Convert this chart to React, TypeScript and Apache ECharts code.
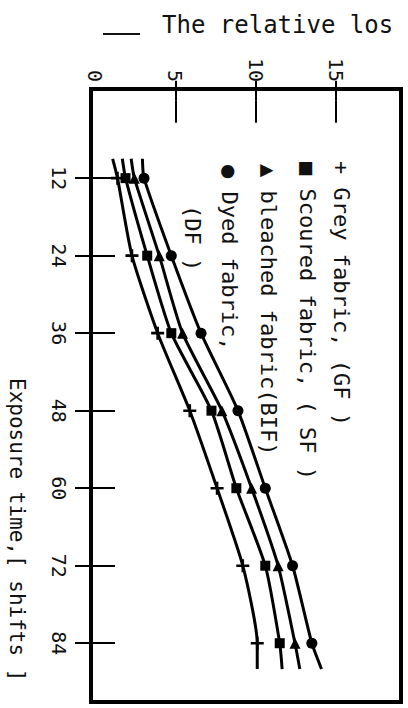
import React, { useEffect, useRef } from "react";
import * as echarts from "echarts";

// Exposure time (shifts) at which each curve was read; 9 and 88 are the curve ends (no marker)
const exposureShifts = [9, 12, 24, 36, 48, 60, 72, 84, 88];
const curveEnds = [9, 88];

// Relative loss values
const greyFabric = [1.1, 1.4, 2.3, 3.9, 5.9, 7.6, 9.2, 10.1, 10.1];
const scouredFabric = [1.7, 1.9, 3.25, 4.75, 7.25, 8.8, 10.6, 11.5, 11.65];
const bleachedFabric = [2.25, 2.45, 4.0, 5.45, 7.9, 9.75, 11.4, 12.45, 12.75];
const dyedFabric = [2.95, 3.05, 4.75, 6.6, 8.9, 10.6, 12.3, 13.5, 14.1];

const timeTicks = [12, 24, 36, 48, 60, 72, 84];
const lossLabels = [0, 5, 10, 15];
const lossTicks = [5, 10, 15];

const legendTexts = [
  "+ Grey fabric, (GF )",
  "■ Scoured fabric, ( SF )",
  "▲ bleached fabric(BIF)",
  "● Dyed fabric,",
  "(DF )",
];
const titleText = "The relative los";
const timeAxisName = "Exposure time,[ shifts ]";

const FONT = "DejaVu Sans Mono";
const PLUS =
  "path://M-1.2,-6 L1.2,-6 L1.2,-1.2 L6,-1.2 L6,1.2 L1.2,1.2 L1.2,6 L-1.2,6 L-1.2,1.2 L-6,1.2 L-6,-1.2 L-1.2,-1.2 Z";

export default function App() {
  const ref = useRef<HTMLDivElement>(null);

  useEffect(() => {
    if (!ref.current) return;
    const chart = echarts.init(ref.current, undefined, { renderer: "svg" });

    const makeSeries = (name: string, values: number[], symbol: string, size: number) => ({
      type: "line",
      name,
      xAxisIndex: 0,
      yAxisIndex: 0,
      smooth: 0.2,
      showAllSymbol: true,
      symbol,
      symbolSize: size,
      lineStyle: { color: "#000", width: 3 },
      itemStyle: { color: "#000" },
      data: values.map((v, i) => ({
        value: [v, exposureShifts[i]],
        symbol: curveEnds.includes(exposureShifts[i]) ? "none" : symbol,
      })),
    });

    const xMin = -0.25;
    const xMax = 19.05;
    const yMin = -1.8;
    const yMax = 93.1;

    const tickStyle = { color: "#000", width: 2 };
    const labelStyle = { fontSize: 20, fontFamily: FONT, color: "#111" };

    const legendX = [341, 307, 268, 229, 192];
    const legendY = [161, 162, 164, 165, 205];

    const textStyle = (text: string, size: number) => ({
      text,
      fontSize: size,
      fontFamily: FONT,
      fill: "#111",
      textAlign: "left",
      textVerticalAlign: "middle",
      verticalAlign: "middle",
    });

    chart.setOption({
      animation: false,
      backgroundColor: "#fff",
      grid: {
        left: 91,
        top: 89,
        right: 7,
        bottom: 6,
        show: true,
        borderColor: "#000",
        borderWidth: 4,
      },
      xAxis: [
        {
          type: "value",
          position: "top",
          min: xMin,
          max: xMax,
          axisLine: { show: false },
          splitLine: { show: false },
          axisTick: { show: true, inside: true, length: 22, customValues: lossTicks, lineStyle: tickStyle },
          axisLabel: { customValues: lossLabels, rotate: -90, margin: 7, ...labelStyle },
        },
        {
          type: "value",
          position: "bottom",
          min: xMin,
          max: xMax,
          axisLine: { show: false },
          splitLine: { show: false },
          axisTick: { show: true, inside: true, length: 20, customValues: lossTicks, lineStyle: tickStyle },
          axisLabel: { show: false },
        },
      ],
      yAxis: [
        {
          type: "value",
          position: "left",
          inverse: true,
          min: yMin,
          max: yMax,
          axisLine: { show: false },
          splitLine: { show: false },
          axisTick: { show: true, inside: true, length: 20, customValues: timeTicks, lineStyle: tickStyle },
          axisLabel: { customValues: timeTicks, rotate: -90, margin: 22, ...labelStyle },
        },
        {
          type: "value",
          position: "right",
          inverse: true,
          min: yMin,
          max: yMax,
          axisLine: { show: false },
          splitLine: { show: false },
          axisTick: { show: true, inside: true, length: 20, customValues: timeTicks, lineStyle: tickStyle },
          axisLabel: { show: false },
        },
      ],
      series: [
        makeSeries("Grey fabric", greyFabric, PLUS, 13),
        makeSeries("Scoured fabric", scouredFabric, "rect", 10),
        makeSeries("Bleached fabric", bleachedFabric, "triangle", 11),
        makeSeries("Dyed fabric", dyedFabric, "circle", 11),
      ],
      graphic: [
        {
          type: "line",
          shape: { x1: 103, y1: 34, x2: 140, y2: 34 },
          style: { stroke: "#111", lineWidth: 2 },
        },
        {
          type: "text",
          x: 162,
          y: 25,
          style: textStyle(titleText, 24),
        },
        {
          type: "text",
          x: 17,
          y: 378,
          rotation: -Math.PI / 2,
          style: textStyle(timeAxisName, 21),
        },
        ...legendTexts.map((t, i) => ({
          type: "text",
          x: legendX[i],
          y: legendY[i],
          rotation: -Math.PI / 2,
          style: textStyle(t, 22),
        })),
      ],
    });

    return () => chart.dispose();
  }, []);

  return (
    <div
      ref={ref}
      style={{ position: "fixed", left: 0, top: 0, width: 408, height: 708, background: "#fff" }}
    />
  );
}
